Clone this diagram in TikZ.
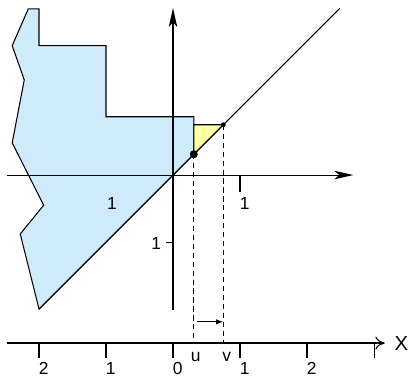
\documentclass[tikz,border=0pt]{standalone}
\usepackage{fontspec}
\setmainfont{Liberation Sans}
\usetikzlibrary{arrows.meta}
\definecolor{lblue}{RGB}{207,234,251}
\definecolor{lyellow}{RGB}{255,255,165}
\tikzset{
  thin line/.style={line width=0.45pt},
  lbl/.style={font=\fontsize{7.4}{8}\selectfont, inner sep=0pt},
  tick/.style={line width=0.45pt},
  axisarrow/.style={-{Stealth[length=8pt,width=3.6pt,inset=2pt]}},
}
\begin{document}
\begin{tikzpicture}[x=1cm,y=1cm]
\useasboundingbox (-2.582,-3.045) rectangle (3.507,2.612);
\def\uu{0.31}
\def\vv{0.75}
% blue polygon
\filldraw[fill=lblue, thin line]
  (-2.16,2.48) -- (-2,2.48) -- (-2,1.93) -- (-1,1.93) -- (-1,0.87) -- (\uu,0.87) -- (\uu,\uu)
  -- (-2,-2) -- (-2.28,-0.88) -- (-1.93,-0.45) -- (-2.40,0.48) -- (-2.22,1.42) -- (-2.40,1.93) -- cycle;
% yellow triangle
\filldraw[fill=lyellow, thin line] (\uu,\vv) -- (\vv,\vv) -- (\uu,\uu) -- cycle;
% axes
\coordinate (xl) at (-2.48,0);
\coordinate (xr) at (2.69,0);
\coordinate (yb) at (0,-2.01);
\coordinate (yt) at (0,2.49);
\draw[thin line, axisarrow] (xl) -- (xr);
\draw[thin line, axisarrow] (yb) -- (yt);
% diagonal
\coordinate (dl) at (-2,-2);
\coordinate (dr) at (2.49,2.49);
\draw[thin line] (dl) -- (dr);
% ticks on axes
\draw[tick] (1,0) -- (1,-0.25);
\draw[tick] (-0.1,-1) -- (0,-1);
\node[lbl] (l1) at (1.07,-0.43) {1};
\node[lbl] (l2) at (-0.91,-0.43) {1};
\node[lbl] (l3) at (-0.25,-1.02) {1};
% points
\coordinate (pu) at (\uu,\uu);
\coordinate (pv) at (\vv,\vv);
\fill (pu) circle (0.06);
\fill (pv) circle (0.037);
\fill (0,0) circle (0.022);
% bottom axis
\coordinate (bl) at (-2.48,-2.507);
\coordinate (br) at (3.16,-2.507);
\draw[thin line, -{To[length=4pt,width=5.5pt]}] (bl) -- (br);
\node[lbl, font=\fontsize{8.6}{9}\selectfont, anchor=west] (X) at (3.3,-2.51) {X};
\foreach \t/\s [count=\i] in {-2/2,-1/1,0/0,1/1,2/2} {
  \draw[tick] (\t,-2.507) -- (\t,-2.73);
  \node[lbl] (b\i) at (\t+0.07,-2.88) {\s};
}
\draw[tick] (3,-2.507) -- (3,-2.73);
% dashed
\coordinate (ub) at (\uu,-2.507);
\coordinate (vb) at (\vv,-2.507);
\draw[thin line, dashed, dash pattern=on 2.2pt off 1.6pt] (pu) -- (ub);
\draw[thin line, dashed, dash pattern=on 2.2pt off 1.6pt] (pv) -- (vb);
\node[lbl] (ul) at (0.34,-2.72) {u};
\node[lbl] (vl) at (0.80,-2.72) {v};
% small arrow
\coordinate (a1) at (0.36,-2.19);
\coordinate (a2) at (\vv,-2.19);
\draw[thin line, -{Latex[length=3pt,width=2.2pt]}] (a1) -- (a2);
\end{tikzpicture}
\end{document}
